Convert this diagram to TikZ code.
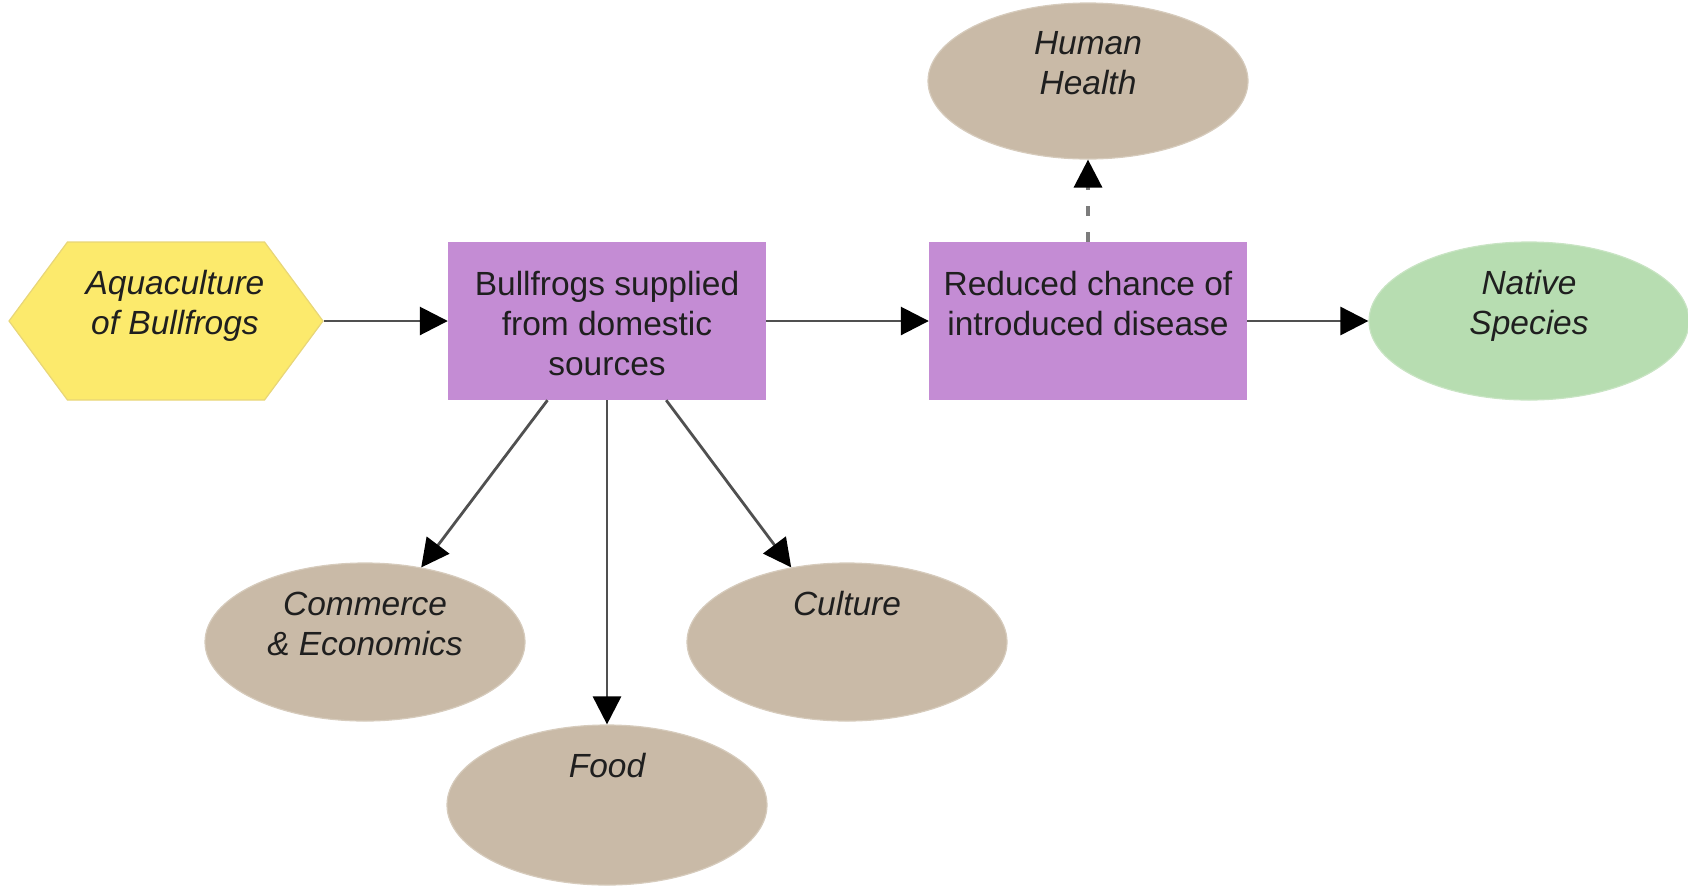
\documentclass[tikz,border=0pt]{standalone}
\usepackage{fontspec}
\setmainfont{Liberation Sans}
\usetikzlibrary{arrows.meta}
\usetikzlibrary{shapes.geometric}
\usetikzlibrary{shapes.symbols}

\definecolor{hexfill}{RGB}{252,234,108}
\definecolor{hexline}{RGB}{232,214,120}
\definecolor{boxfill}{RGB}{196,140,212}
\definecolor{ovalfill}{RGB}{201,186,167}
\definecolor{ovalline}{RGB}{214,203,188}
\definecolor{nativefill}{RGB}{183,221,177}
\definecolor{nativeline}{RGB}{200,228,195}
\definecolor{linkgray}{RGB}{80,80,80}

\begin{document}
\begin{tikzpicture}[x=1pt,y=-1pt,
    txt/.style={anchor=north,yshift=-29pt,inner sep=0pt,align=center,
      text=black!88,font=\fontsize{33.5}{40}\selectfont},
    itxt/.style={txt,font=\fontsize{33.5}{40}\selectfont\itshape},
    driver/.style={signal,signal to=east and west,signal pointer angle=107,
      minimum width=314pt,minimum height=158pt,inner sep=0pt,
      fill=hexfill,draw=hexline,line width=1.2pt},
    action/.style={rectangle,minimum width=318pt,minimum height=158pt,
      inner sep=0pt,fill=boxfill},
    benefit/.style={ellipse,minimum width=320pt,minimum height=158pt,
      inner sep=0pt,fill=ovalfill,draw=ovalline,line width=1.2pt},
    link/.style={draw=linkgray,line width=2.8pt,
      -{Triangle[length=28pt,width=28pt,color=black]}}]

  \useasboundingbox (0,0) rectangle (1688,887);

  \node [driver,label={[itxt,xshift=9pt]90:{Aquaculture\\of Bullfrogs}}] (aqua) at (166,321) {};

  \node [action,label={[txt]90:{Bullfrogs supplied\\from domestic\\sources}}] (supply) at (607,321) {};
  \node [action,label={[txt]90:{Reduced chance of\\introduced disease}}] (disease) at (1088,321) {};

  \node [benefit,minimum height=156pt,label={[itxt]90:{Human\\Health}}] (health) at (1088,81) {};
  \node [benefit,fill=nativefill,draw=nativeline,label={[itxt]90:{Native\\Species}}] (native) at (1529,321) {};
  \node [benefit,label={[itxt]90:{Commerce\\\& Economics}}] (commerce) at (365,642) {};
  \node [benefit,label={[itxt]90:{Culture}}] (culture) at (847,642) {};
  \node [benefit,minimum height=160pt,label={[itxt]90:{Food}}] (food) at (607,805) {};

  \path [link]
    (aqua)    edge (supply)
    (supply)  edge (disease)
    (disease) edge (native)
    (supply)  edge (commerce)
    (supply)  edge (food)
    (supply)  edge (culture);

  \path [link,draw=linkgray!75,line width=3.5pt,dash pattern=on 10pt off 16pt]
    (disease) edge (health);

\end{tikzpicture}
\end{document}
